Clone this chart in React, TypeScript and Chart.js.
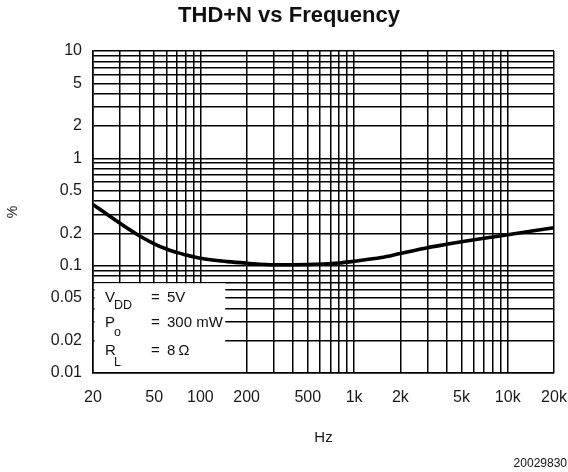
import React, { useEffect, useRef } from 'react';
import { Chart, registerables } from 'chart.js';

Chart.register(...registerables);

// ---- Data ----
const frequencies = [20, 30, 40, 50, 60, 70, 80, 100, 150, 200, 300, 500, 800, 1000, 1500, 2000, 3000, 4000, 5000, 7000, 10000, 20000];
const thdValues = [0.372, 0.248, 0.19, 0.16, 0.143, 0.133, 0.126, 0.117, 0.109, 0.1055, 0.102, 0.1025, 0.106, 0.11, 0.119, 0.13, 0.147, 0.158, 0.167, 0.18, 0.194, 0.226];

const xGridValues = [20, 30, 40, 50, 60, 70, 80, 90, 100, 200, 300, 400, 500, 600, 700, 800, 900, 1000, 2000, 3000, 4000, 5000, 6000, 7000, 8000, 9000, 10000, 20000];
const xLabelValues = [20, 50, 100, 200, 500, 1000, 2000, 5000, 10000, 20000];
const xTickLabels = ['20', '50', '100', '200', '500', '1k', '2k', '5k', '10k', '20k'];

const yGridValues = [0.01, 0.02, 0.03, 0.04, 0.05, 0.06, 0.07, 0.08, 0.09, 0.1, 0.2, 0.3, 0.4, 0.5, 0.6, 0.7, 0.8, 0.9, 1, 2, 3, 4, 5, 6, 7, 8, 9, 10];
const yLabelValues = [0.01, 0.02, 0.05, 0.1, 0.2, 0.5, 1, 2, 5, 10];
const yTickLabels = ['0.01', '0.02', '0.05', '0.1', '0.2', '0.5', '1', '2', '5', '10'];

const legendSymbols = ['V', 'P', 'R'];
const legendSubscripts = ['DD', 'o', 'L'];
const legendValues = ['5V', '300 mW', '8\u2009\u03A9'];

const titleText = 'THD+N vs Frequency';
const xAxisTitle = 'Hz';
const yAxisTitle = '%';
const figureCode = '20029830';

// legend box extent in data units
const legendBoxMaxHz = 145;
const legendBoxTopValue = 0.07;

const FONT = "'Liberation Sans', Arial, Helvetica, sans-serif";

const annotationPlugin = {
  id: 'annotations',
  beforeDatasetsDraw(chart: any) {
    const { ctx, chartArea, scales } = chart;
    const left = chartArea.left;
    const bottom = chartArea.bottom;
    const right = scales.x.getPixelForValue(legendBoxMaxHz);
    const top = scales.y.getPixelForValue(legendBoxTopValue);
    ctx.save();
    ctx.fillStyle = '#ffffff';
    ctx.fillRect(left + 1.5, top + 1, right - left - 1.5, bottom - top - 2);

    ctx.fillStyle = '#111111';
    ctx.textBaseline = 'alphabetic';
    ctx.textAlign = 'left';
    const baselines = [19.5, 45, 72.5];
    const subOffsets = [7, 9, 11];
    for (let i = 0; i < legendSymbols.length; i++) {
      const by = top + baselines[i];
      ctx.font = `15px ${FONT}`;
      ctx.fillText(legendSymbols[i], left + 12, by);
      ctx.fillText('=', left + 58, by);
      ctx.fillText(legendValues[i], left + 74, by);
      ctx.font = `12.5px ${FONT}`;
      ctx.fillText(legendSubscripts[i], left + 21, by + subOffsets[i]);
    }
    ctx.restore();
  },
  afterDraw(chart: any) {
    const { ctx } = chart;
    ctx.save();
    ctx.fillStyle = '#111111';
    ctx.font = `bold 22px ${FONT}`;
    ctx.textAlign = 'center';
    ctx.textBaseline = 'middle';
    ctx.fillText(titleText, 289, 16);
    ctx.font = `12px ${FONT}`;
    ctx.textAlign = 'right';
    ctx.textBaseline = 'alphabetic';
    ctx.fillText(figureCode, chart.width - 1, 467);
    ctx.restore();
  },
};

export default function App() {
  const canvasRef = useRef<HTMLCanvasElement | null>(null);

  useEffect(() => {
    if (!canvasRef.current) return;
    const chart = new Chart(canvasRef.current, {
      type: 'line',
      data: {
        datasets: [
          {
            data: frequencies.map((f, i) => ({ x: f, y: thdValues[i] })),
            borderColor: '#000000',
            borderWidth: 3.6,
            pointRadius: 0,
            cubicInterpolationMode: 'monotone',
            fill: false,
          },
        ],
      },
      options: {
        responsive: false,
        animation: false,
        layout: { padding: { left: 0, right: 14, top: 51, bottom: 0 } },
        plugins: {
          legend: { display: false },
          tooltip: { enabled: false },
          title: { display: false },
        },
        scales: {
          x: {
            type: 'logarithmic',
            min: 20,
            max: 20000,
            afterBuildTicks: (scale: any) => {
              scale.ticks = xGridValues.map((v) => ({ value: v }));
            },
            afterFit: (scale: any) => {
              scale.height = 99;
              scale.paddingLeft = 0;
              scale.paddingRight = 0;
            },
            grid: { color: '#000000', lineWidth: 1.5, drawTicks: false },
            border: { display: true, color: '#000000', width: 1.5 },
            ticks: {
              autoSkip: false,
              maxRotation: 0,
              minRotation: 0,
              padding: 15,
              color: '#1a1a1a',
              font: { family: FONT, size: 16 },
              callback: (value: any) => {
                const i = xLabelValues.indexOf(Number(value));
                return i >= 0 ? xTickLabels[i] : '';
              },
            },
            title: {
              display: true,
              text: xAxisTitle,
              color: '#1a1a1a',
              font: { family: FONT, size: 15 },
              padding: { top: 0, bottom: 25 },
            },
          },
          y: {
            type: 'logarithmic',
            min: 0.01,
            max: 10,
            afterBuildTicks: (scale: any) => {
              scale.ticks = yGridValues.map((v) => ({ value: v }));
            },
            afterFit: (scale: any) => {
              scale.width = 93;
              scale.paddingTop = 0;
              scale.paddingBottom = 0;
            },
            grid: { color: '#000000', lineWidth: 1.5, drawTicks: false },
            border: { display: true, color: '#000000', width: 1.5 },
            ticks: {
              autoSkip: false,
              padding: 11,
              color: '#1a1a1a',
              font: { family: FONT, size: 16 },
              callback: (value: any) => {
                const i = yLabelValues.indexOf(Number(value));
                return i >= 0 ? yTickLabels[i] : '';
              },
            },
            title: {
              display: true,
              text: yAxisTitle,
              color: '#1a1a1a',
              font: { family: FONT, size: 14 },
              padding: { top: 4.6, bottom: 0 },
            },
          },
        },
      },
      plugins: [annotationPlugin],
    } as any);
    return () => chart.destroy();
  }, []);

  return (
    <div style={{ position: 'absolute', left: 0, top: 0, width: 568, height: 472, background: '#fff' }}>
      <canvas ref={canvasRef} width={568} height={472} style={{ display: 'block' }} />
    </div>
  );
}
